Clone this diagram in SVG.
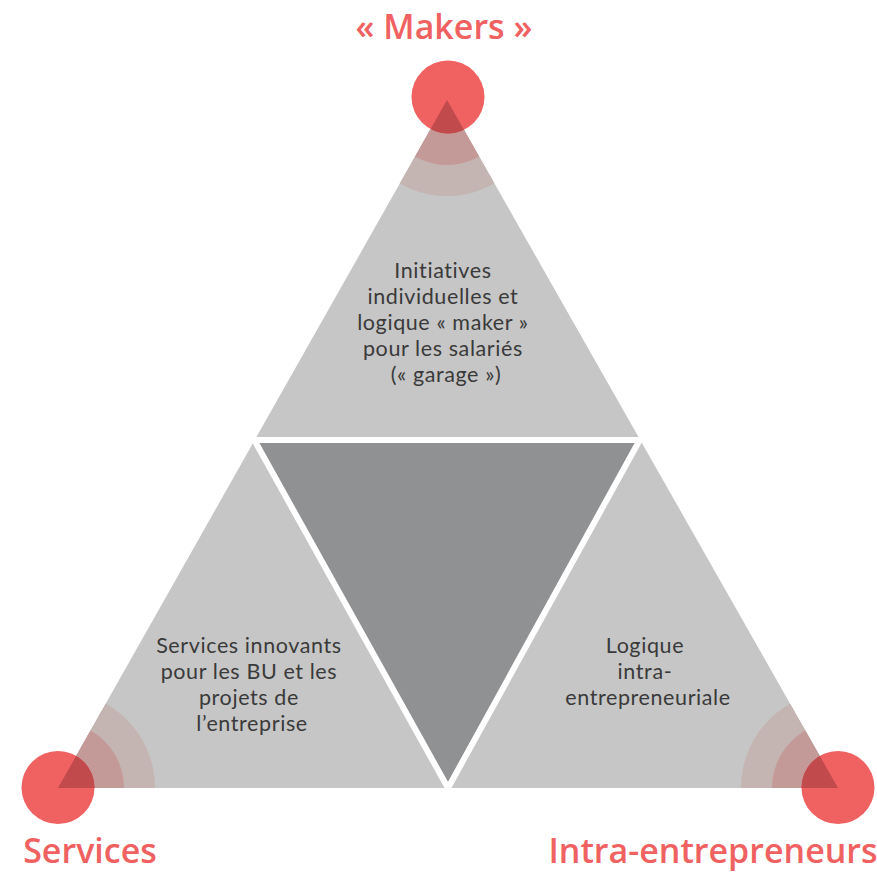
<svg xmlns="http://www.w3.org/2000/svg" width="877" height="873" viewBox="0 0 877 873">
<style>
.body{font-family:Lato,"Open Sans",sans-serif;font-size:21.5px;letter-spacing:0.6px;font-variant-ligatures:none;fill:#3a3a3a;text-anchor:middle}
.head{font-family:"Open Sans","Noto Sans",sans-serif;font-size:34px;font-weight:600;fill:#f06161;text-anchor:middle}
.band2{fill:#c4b5b2}
.band1{fill:#c49a98}
.dot{fill:#f06161}
.over{fill:#c14a4d}
</style>
<defs>
<clipPath id="tri"><polygon points="447,100 58,788 838,788"/></clipPath>
</defs>
<rect width="877" height="873" fill="#fff"/>
<g id="pyramid">
<polygon points="447,100 58,788 838,788" fill="#c6c6c6"/>
<g clip-path="url(#tri)">
<circle class="band2" cx="447" cy="100" r="96"/>
<circle class="band1" cx="447" cy="100" r="65"/>
<circle class="band2" cx="58" cy="788" r="97"/>
<circle class="band1" cx="58" cy="788" r="66"/>
<circle class="band2" cx="838" cy="788" r="97"/>
<circle class="band1" cx="838" cy="788" r="66"/>
</g>
<polygon id="center" points="254.3,440 639.7,440 448,788" fill="#909193" stroke="#fff" stroke-width="6"/>
</g>
<g id="makers">
<circle class="dot" cx="448" cy="97" r="36.5"/>
<circle class="over" cx="448" cy="97" r="36.5" clip-path="url(#tri)"/>
<text class="head" x="444" y="39">« Makers »</text>
<text class="body">
<tspan x="446" y="278">Initiatives</tspan>
<tspan x="446" y="304">individuelles et</tspan>
<tspan x="446" y="330">logique « maker »</tspan>
<tspan x="446" y="356">pour les salariés</tspan>
<tspan x="446" y="382">(« garage »)</tspan>
</text>
</g>
<g id="services">
<circle class="dot" cx="58" cy="787.5" r="36.5"/>
<circle class="over" cx="58" cy="787.5" r="36.5" clip-path="url(#tri)"/>
<text class="head" x="90" y="863">Services</text>
<text class="body">
<tspan x="252" y="653">Services innovants</tspan>
<tspan x="252" y="679">pour les BU et les</tspan>
<tspan x="252" y="705">projets de</tspan>
<tspan x="252" y="731">l’entreprise</tspan>
</text>
</g>
<g id="intra">
<circle class="dot" cx="838" cy="787.5" r="36.5"/>
<circle class="over" cx="838" cy="787.5" r="36.5" clip-path="url(#tri)"/>
<text class="head" x="713" y="863">Intra-entrepreneurs</text>
<text class="body">
<tspan x="648" y="653">Logique</tspan>
<tspan x="648" y="679">intra-</tspan>
<tspan x="648" y="705">entrepreneuriale</tspan>
</text>
</g>
</svg>
